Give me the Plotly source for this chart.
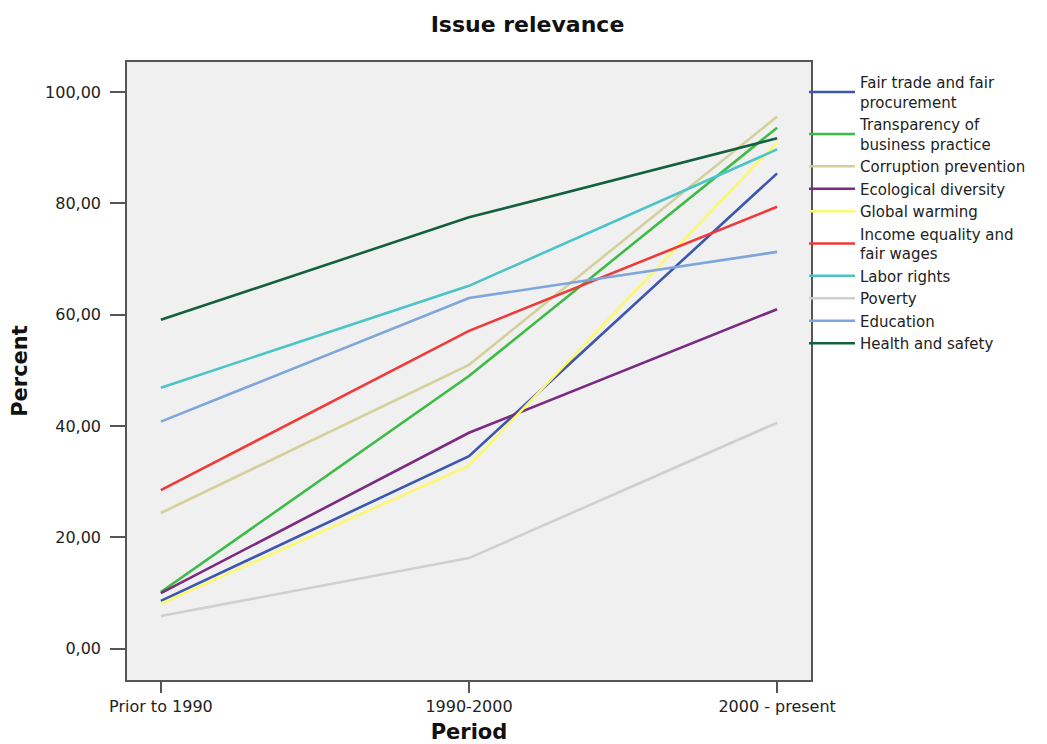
import plotly.graph_objects as go

periods = ["Prior to 1990", "1990-2000", "2000 - present"]

series_names = [
    "Fair trade and fair<br>procurement",
    "Transparency of<br>business practice",
    "Corruption prevention",
    "Ecological diversity",
    "Global warming",
    "Income equality and<br>fair wages",
    "Labor rights",
    "Poverty",
    "Education",
    "Health and safety",
]

fair_trade = [8.6, 34.6, 85.4]
transparency = [10.2, 49.0, 93.6]
corruption = [24.4, 51.0, 95.6]
ecological = [10.0, 38.8, 61.0]
global_warming = [8.1, 32.9, 91.0]
income = [28.5, 57.1, 79.4]
labor = [46.9, 65.2, 89.7]
poverty = [5.9, 16.3, 40.6]
education = [40.8, 63.0, 71.3]
health = [59.1, 77.5, 91.7]

values = [fair_trade, transparency, corruption, ecological, global_warming,
          income, labor, poverty, education, health]

colors = ["#3d56b0", "#3cbc45", "#d4d09a", "#7b2a80", "#fbf871",
          "#ef3a3a", "#4ac4c8", "#cfcfcf", "#7ea6dc", "#12603f"]

FONT = "DejaVu Sans, Verdana, sans-serif"

fig = go.Figure()
for i, (name, vals, col) in enumerate(zip(series_names, values, colors)):
    fig.add_trace(go.Scatter(
        x=periods, y=vals, name=name, mode="lines",
        line=dict(color=col, width=2.6),
        legendgroup=f"g{i}",
    ))

W, H = 1039, 736
PLOT_W = W - 119 - 236
fig.update_layout(
    width=W, height=H,
    margin=dict(l=119, r=236, t=54, b=64),
    paper_bgcolor="white",
    plot_bgcolor="#f0f0f0",
    separators=", ",
    font=dict(family=FONT, size=16, color="#222222"),
    title=dict(text="<b>Issue relevance</b>", x=0.5, xref="container", xanchor="center",
               y=1 - 16 / H, yanchor="middle",
               font=dict(family=FONT, size=22, color="#111111")),
    showlegend=True,
    legend=dict(x=1.0 - 7 / PLOT_W, xanchor="left", y=1 - 4 / 618, yanchor="top",
                bgcolor="rgba(0,0,0,0)", tracegroupgap=0,
                font=dict(family=FONT, size=15, color="#222222"),
                itemwidth=46),
    xaxis=dict(
        type="category", range=[-0.11, 2.11], automargin=False,
        showgrid=False, zeroline=False,
        showline=True, linecolor="#555555", linewidth=1.5, mirror=True,
        ticks="outside", ticklen=11, tickwidth=1.5, tickcolor="#555555",
        tickfont=dict(family=FONT, size=16, color="#222222"),
        title=dict(text="<b>Period</b>", font=dict(family=FONT, size=21, color="#111111"), standoff=25),
    ),
    yaxis=dict(
        range=[-5.6, 105.4], automargin=False,
        tickvals=[0, 20, 40, 60, 80, 100], tickformat=".2f",
        showgrid=False, zeroline=False,
        showline=True, linecolor="#555555", linewidth=1.5, mirror=True,
        ticks="outside", ticklen=15, tickwidth=1.5, tickcolor="#555555",
        ticklabelstandoff=6,
        tickfont=dict(family=FONT, size=16, color="#222222"),
        title=dict(text="<b>Percent</b>", font=dict(family=FONT, size=21, color="#111111"), standoff=12),
    ),
)

fig.write_html("out.html")
